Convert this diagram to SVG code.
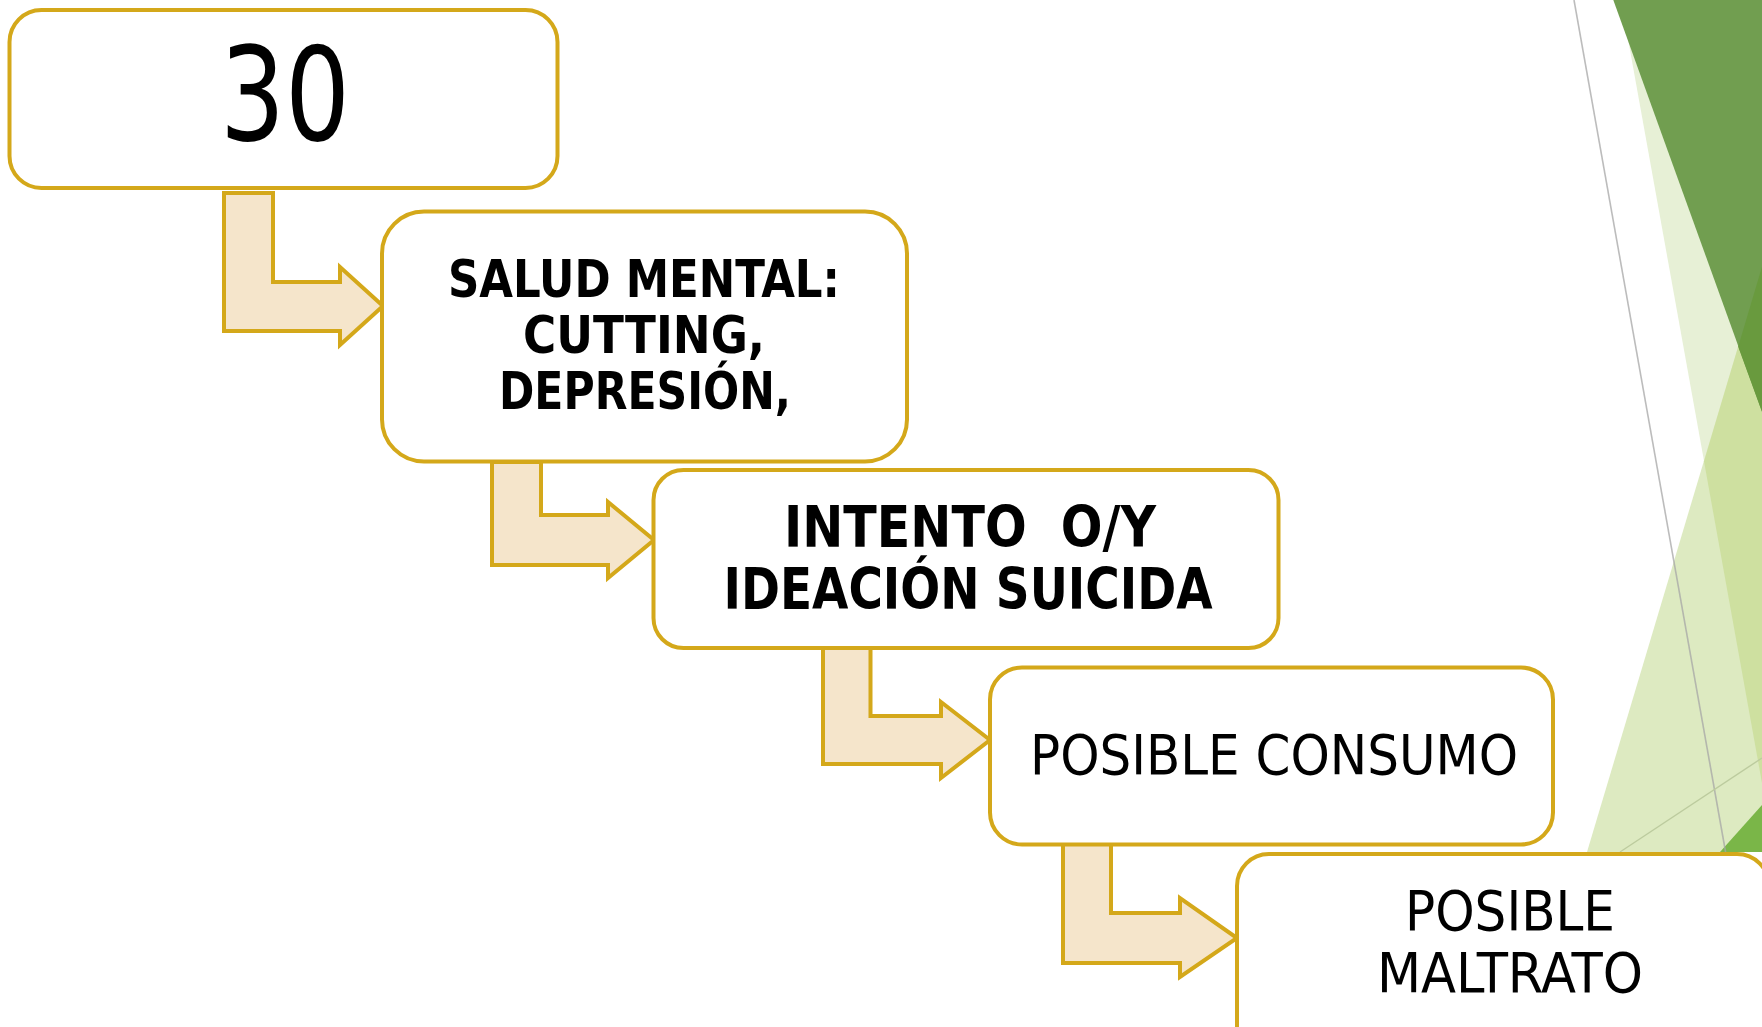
<svg xmlns="http://www.w3.org/2000/svg" width="1762" height="1027" viewBox="0 0 1762 1027">
<style>
.box{fill:#ffffff;stroke:#D4A81A;stroke-width:4}
.arr{fill:#F5E5CB;stroke:#D4A81A;stroke-width:4;stroke-linejoin:miter}
.t{font-family:"DejaVu Sans Condensed","DejaVu Sans",sans-serif;fill:#000;text-anchor:middle}
.b{font-weight:bold}
</style>
<rect width="1762" height="1027" fill="#ffffff"/>
<g id="background">
<polygon points="1621,0 1762,0 1762,783" fill="#E7F0D6"/>
<polygon points="1762,266.7 1587,852 1762,852" fill="#DDEAC1"/>
<polygon points="1704,461.3 1762,266.7 1762,783" fill="#CEE0A0"/>
<polygon points="1613.3,0 1762,0 1762,411.7" fill="#719E50"/>
<polygon points="1762,266.7 1738.2,346.8 1762,411.7" fill="#699A3E"/>
<polygon points="1720,852 1762,805 1762,852" fill="#7AB648"/>
<line x1="1574" y1="0" x2="1727" y2="860" stroke="#A6A6A6" stroke-width="1.6" stroke-opacity="0.75"/>
<line x1="1620" y1="852" x2="1762" y2="758" stroke="#BCCB9E" stroke-width="1.4"/>
</g>
<g id="connectors">
<polygon class="arr" points="224,193 273,193 273,282 340,282 340,267 383,306 340,345 340,331 224,331"/>
<polygon class="arr" points="492,462 541,462 541,515 608,515 608,502 654,540 608,578 608,565 492,565"/>
<polygon class="arr" points="823,648 870.5,648 870.5,716 941,716 941,702 990,740 941,778 941,764 823,764"/>
<polygon class="arr" points="1063,844 1111,844 1111,913 1180,913 1180,898 1237,938 1180,977 1180,963 1063,963"/>
</g>
<g id="node1">
<rect class="box" x="9.5" y="10" width="548" height="178" rx="32"/>
<text class="t" x="285" y="140" font-size="130" textLength="130" lengthAdjust="spacingAndGlyphs">30</text>
</g>
<g id="node2">
<rect class="box" x="382" y="211.5" width="525" height="250" rx="42"/>
<text class="t b" x="644" y="297" font-size="51" textLength="392" lengthAdjust="spacingAndGlyphs">SALUD MENTAL:</text>
<text class="t b" x="644" y="353" font-size="51" textLength="242" lengthAdjust="spacingAndGlyphs">CUTTING,</text>
<text class="t b" x="645" y="409" font-size="51" textLength="292" lengthAdjust="spacingAndGlyphs">DEPRESIÓN,</text>
</g>
<g id="node3">
<rect class="box" x="653.5" y="470" width="625" height="178" rx="30"/>
<text class="t b" x="970" y="547" font-size="57" textLength="372" lengthAdjust="spacingAndGlyphs" xml:space="preserve">INTENTO  O/Y</text>
<text class="t b" x="968" y="609" font-size="57" textLength="489" lengthAdjust="spacingAndGlyphs">IDEACIÓN SUICIDA</text>
</g>
<g id="node4">
<rect class="box" x="990" y="667.5" width="563" height="177" rx="32"/>
<text class="t" x="1274" y="774" font-size="56" textLength="488" lengthAdjust="spacingAndGlyphs">POSIBLE CONSUMO</text>
</g>
<g id="node5">
<rect class="box" x="1237" y="854" width="532" height="230" rx="32"/>
<text class="t" x="1510" y="930" font-size="56" textLength="210" lengthAdjust="spacingAndGlyphs">POSIBLE</text>
<text class="t" x="1510" y="992" font-size="56" textLength="266" lengthAdjust="spacingAndGlyphs">MALTRATO</text>
</g>
</svg>
